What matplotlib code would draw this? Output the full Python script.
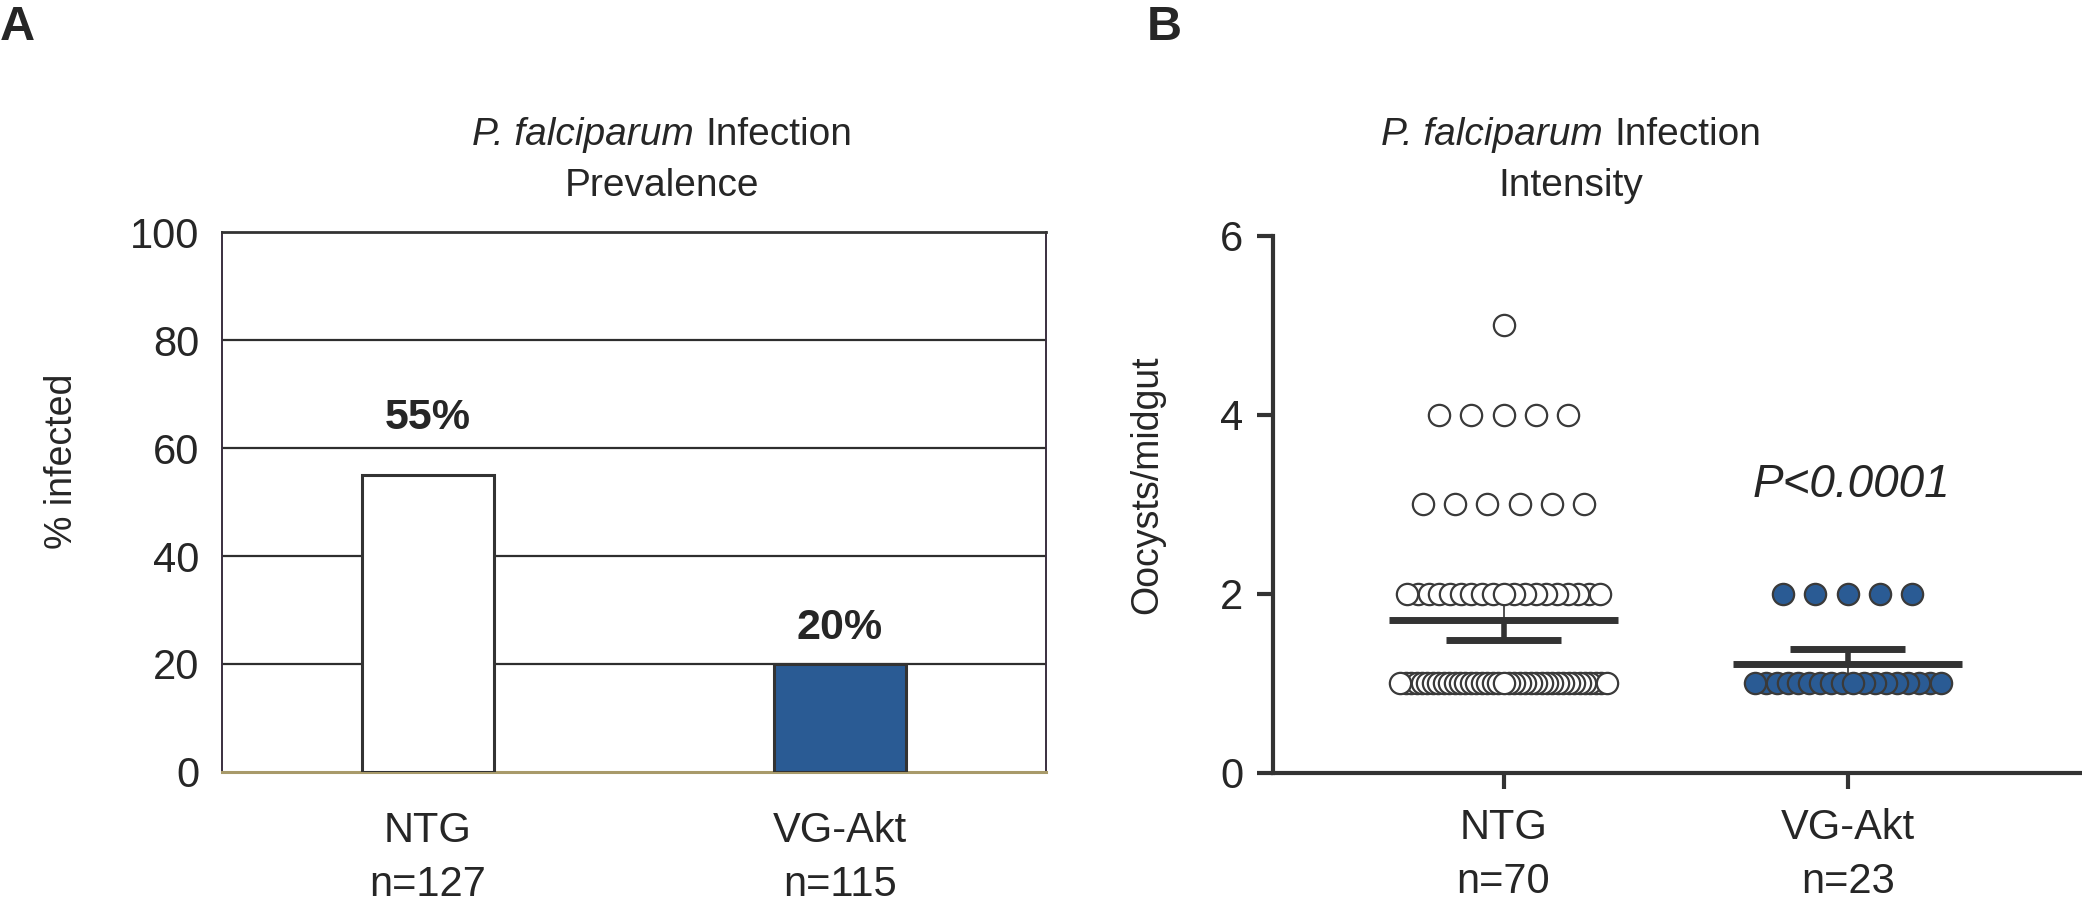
import numpy as np
import matplotlib
matplotlib.use("Agg")
import matplotlib.pyplot as plt
from matplotlib.offsetbox import TextArea, HPacker, AnnotationBbox

plt.rcParams['font.family'] = ['Liberation Sans', 'DejaVu Sans']

# panel A: prevalence
groups = ['NTG', 'VG-Akt']
prev_n = [127, 115]
prevalence = [55, 20]

# panel B: oocysts per midgut (value -> number of midguts)
ntg_levels = [5, 4, 3, 2, 1]
ntg_counts = [1, 5, 6, 19, 39]
akt_levels = [2, 1]
akt_counts = [5, 18]
int_n = [70, 23]
p_text = 'P<0.0001'

TXT = '#262626'
EDGE = '#333333'
BLUE = '#2a5b94'

fig = plt.figure(figsize=(20.82, 9.11), dpi=100)

# ---------------- A ----------------
axA = fig.add_axes([0.1066, 0.1526, 0.3958, 0.5927])
xA = np.arange(len(groups))
axA.bar(xA, prevalence, width=0.32, color=['white', BLUE], edgecolor=EDGE,
        linewidth=2.2, zorder=3)
for v in [20, 40, 60, 80]:
    axA.axhline(v, color='#2e2e2e', lw=1.6, zorder=1)
label_off = [6.8, 3.0]
for x, v, off in zip(xA, prevalence, label_off):
    axA.text(x, v + off, '{}%'.format(v), ha='center', va='bottom',
             fontsize=31, fontweight='bold', color=TXT)
axA.set_xlim(-0.5, 1.5)
axA.set_ylim(0, 100)
axA.set_yticks([0, 20, 40, 60, 80, 100])
axA.set_xticks(xA)
axA.set_xticklabels(['{}\nn={}'.format(g, n) for g, n in zip(groups, prev_n)],
                    linespacing=1.45)
axA.tick_params(axis='both', length=0, labelsize=30, colors=TXT)
axA.tick_params(axis='y', pad=16)
axA.tick_params(axis='x', pad=28)
axA.spines['left'].set_color('#3a2f3f')
axA.spines['left'].set_linewidth(1.4)
axA.spines['right'].set_color('#3a2f3f')
axA.spines['right'].set_linewidth(1.4)
axA.spines['top'].set_color('#333333')
axA.spines['top'].set_linewidth(2.0)
axA.spines['bottom'].set_color('#a89a6a')
axA.spines['bottom'].set_linewidth(2.2)
axA.set_ylabel('% infected', fontsize=27, color=TXT)
axA.yaxis.set_label_coords(-0.172, 0.576)

# ---------------- B ----------------
axB = fig.add_axes([0.6114, 0.1515, 0.3876, 0.5895])
step = 0.094
rows = [(0, ntg_levels, ntg_counts, 'white'), (1, akt_levels, akt_counts, BLUE)]
for xc, levels, counts, fc in rows:
    xs, ys = [], []
    for lev, c in zip(levels, counts):
        if c <= 7:
            off = (np.arange(c) - (c - 1) / 2) * step
        else:
            half = 0.30 if lev == 1 else 0.28
            if xc == 1:
                half = 0.27
            off = np.linspace(-half, half, c)
        order = list(np.argsort(-np.abs(off), kind='stable'))
        if c > 7:
            order = order[2:] + order[:2]
        xs += list(xc + off[order])
        ys += [lev] * c
    axB.scatter(xs, ys, s=235, facecolor=fc, edgecolor='#3a3a3a',
                linewidth=1.6, zorder=4)

    # mean with 95% CI
    vals = np.repeat(levels, counts)
    m = vals.mean()
    ci = 1.96 * vals.std(ddof=1) / np.sqrt(len(vals))
    axB.hlines(m, xc - 0.333, xc + 0.333, color=EDGE, lw=5, zorder=3)
    axB.vlines(xc, m - ci, m + ci, color=EDGE, lw=1.2, zorder=2)
    side = -1 if xc == 0 else 1
    axB.vlines(xc, m, m + side * ci, color=EDGE, lw=4, zorder=3)
    axB.hlines(m + side * ci, xc - 0.167, xc + 0.167, color=EDGE, lw=5, zorder=3)

axB.text(1.01, 3.22, p_text, ha='center', va='center', fontsize=33,
         style='italic', color=TXT)
axB.set_xlim(-0.67, 1.675)
axB.set_ylim(0, 6)
axB.set_yticks([0, 2, 4, 6])
axB.set_xticks([0, 1])
axB.set_xticklabels(['{}\nn={}'.format(g, n) for g, n in zip(groups, int_n)],
                    linespacing=1.45)
for s in ['top', 'right']:
    axB.spines[s].set_visible(False)
for s in ['left', 'bottom']:
    axB.spines[s].set_color(EDGE)
    axB.spines[s].set_linewidth(3)
axB.tick_params(axis='both', length=11.5, width=3, color=EDGE,
                labelsize=30, labelcolor=TXT)
axB.tick_params(axis='y', pad=10)
axB.tick_params(axis='x', pad=14)
axB.set_ylabel('Oocysts/midgut', fontsize=27, color=TXT)
axB.yaxis.set_label_coords(-0.134, 0.536)

# titles and panel letters
for xc, sub in [(0.318, 'Prevalence'), (0.7546, 'Intensity')]:
    line = HPacker(children=[
        TextArea('P. falciparum', textprops=dict(fontsize=28, style='italic', color=TXT)),
        TextArea('Infection', textprops=dict(fontsize=28, color=TXT))],
        sep=9, pad=0, align='baseline')
    fig.add_artist(AnnotationBbox(line, (xc, 0.852), xycoords='figure fraction',
                                  box_alignment=(0.5, 0.5), frameon=False))
    fig.text(xc, 0.796, sub, ha='center', va='center', fontsize=28, color=TXT)
fig.text(0.0, 0.994, 'A', ha='left', va='top', fontsize=35,
         fontweight='bold', color=TXT)
fig.text(0.551, 0.994, 'B', ha='left', va='top', fontsize=35,
         fontweight='bold', color=TXT)

fig.savefig('out.png', dpi=100, facecolor='white')
